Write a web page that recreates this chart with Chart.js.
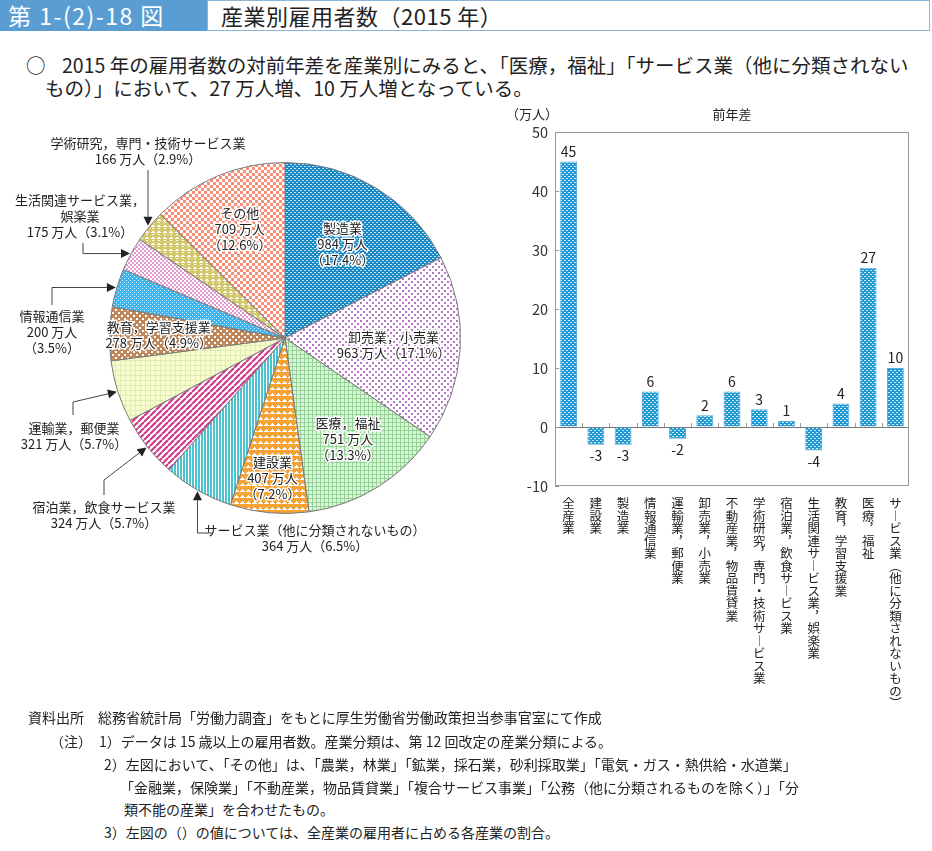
<!DOCTYPE html>
<html lang="ja">
<head>
<meta charset="utf-8">
<script src="https://cdn.jsdelivr.net/npm/chart.js@4.4.1/dist/chart.umd.min.js"></script>
<style>
  body { margin: 0; width: 932px; height: 851px; position: relative; background: #fff;
         font-family: "Noto Sans CJK JP", "Noto Sans", sans-serif; color: #222; overflow: hidden; }
  #hdrNo { position: absolute; left: 0; top: 0; width: 207px; height: 31px; background: #5a9dd3;
           color: #fff; font-size: 23px; line-height: 31px; padding-left: 8px; box-sizing: border-box;
           letter-spacing: 1.5px; }
  #hdrTitle { position: absolute; left: 207px; top: 0; width: 723px; height: 31px; border: 1px solid #8bb6dc;
              box-sizing: border-box; font-size: 22px; line-height: 29px; padding-left: 13px; letter-spacing: 0.5px; }
  .lead { position: absolute; font-size: 19.5px; line-height: 23px; white-space: nowrap; }
  .note { position: absolute; font-size: 14px; line-height: 18px; white-space: nowrap; color: #222; }
  #pie { position: absolute; left: 0; top: 110px; }
  #bar { position: absolute; left: 500px; top: 100px; }
</style>
</head>
<body>
<div id="hdrNo">第 1-(2)-18 図</div>
<div id="hdrTitle">産業別雇用者数（2015 年）</div>
<div class="lead" style="left:26px; top:53px;">○</div>
<div class="lead" style="left:62px; top:53px;">2015 年の雇用者数の対前年差を産業別にみると、「医療，福祉」「サービス業（他に分類されない</div>
<div class="lead" style="left:45px; top:76px;">もの）」において、27 万人増、10 万人増となっている。</div>

<canvas id="pie" width="500" height="450"></canvas>
<canvas id="bar" width="432" height="620"></canvas>

<div class="note" style="left:28px; top:708px;">資料出所　総務省統計局「労働力調査」をもとに厚生労働省労働政策担当参事官室にて作成</div>
<div class="note" style="left:50px; top:732px;">（注）　1）データは 15 歳以上の雇用者数。産業分類は、第 12 回改定の産業分類による。</div>
<div class="note" style="left:104px; top:755px;">2）左図において、「その他」は、「農業，林業」「鉱業，採石業，砂利採取業」「電気・ガス・熱供給・水道業」</div>
<div class="note" style="left:120px; top:778px;">「金融業，保険業」「不動産業，物品賃貸業」「複合サービス事業」「公務（他に分類されるものを除く）」「分</div>
<div class="note" style="left:124px; top:800px;">類不能の産業」を合わせたもの。</div>
<div class="note" style="left:104px; top:823px;">3）左図の（）の値については、全産業の雇用者に占める各産業の割合。</div>

<script>
// 円グラフのデータ（2015年，万人・％）
const pieNames = [
  "製造業", "卸売業，小売業", "医療，福祉", "建設業",
  "サービス業（他に分類されないもの）", "宿泊業，飲食サービス業", "運輸業，郵便業",
  "教育，学習支援業", "情報通信業", "生活関連サービス業，娯楽業",
  "学術研究，専門・技術サービス業", "その他",
];
const pieValues = [984, 963, 751, 407, 364, 324, 321, 278, 200, 175, 166, 709];
const pieShares = ["17.4", "17.1", "13.3", "7.2", "6.5", "5.7", "5.7", "4.9", "3.5", "3.1", "2.9", "12.6"];

// 棒グラフのデータ（前年差，万人）
const barCats = [
  "全産業", "建設業", "製造業", "情報通信業", "運輸業，郵便業", "卸売業，小売業",
  "不動産業，物品賃貸業", "学術研究，専門・技術サービス業", "宿泊業，飲食サービス業",
  "生活関連サービス業，娯楽業", "教育，学習支援業", "医療，福祉",
  "サービス業（他に分類されないもの）",
];
const barValues = [45, -3, -3, 6, -2, 2, 6, 3, 1, -4, 4, 27, 10];
const yTicks = [-10, 0, 10, 20, 30, 40, 50];

const FONT = '"Noto Sans CJK JP", sans-serif';

// 柄（パターン）を作る
function makePattern(size, bg, draw) {
  const c = document.createElement("canvas");
  c.width = size; c.height = size;
  const g = c.getContext("2d");
  g.fillStyle = bg;
  g.fillRect(0, 0, size, size);
  draw(g);
  return g.createPattern(c, "repeat");
}
function px(g, color, pts) {
  g.fillStyle = color;
  pts.forEach(p => g.fillRect(p[0], p[1], p[2] || 1, p[3] || 1));
}

const pieFills = [
  makePattern(4, "#1a88c4", g => px(g, "#bfe2f4", [[0, 0, 2, 1], [2, 2, 2, 1]])),            // 製造業
  makePattern(6, "#ffffff", g => px(g, "#b876c8", [[0, 0, 2, 2], [3, 3, 2, 2]])),            // 卸売
  makePattern(4, "#dff2df", g => px(g, "#93d393", [[0, 0, 4, 1], [0, 0, 1, 4]])),            // 医療
  makePattern(6, "#f7a232", g => px(g, "#fff", [[2, 1, 1, 1], [1, 2, 3, 1], [0, 3, 5, 1]])), // 建設
  makePattern(3, "#ffffff", g => px(g, "#4fc2cf", [[0, 0, 2, 3]])),                          // サービス
  makePattern(6, "#ffffff", g => {                                                         // 宿泊
    g.strokeStyle = "#d23b8a"; g.lineWidth = 2.2;
    for (let k = -6; k <= 12; k += 6) { g.beginPath(); g.moveTo(k, 6); g.lineTo(k + 6, 0); g.stroke(); }
  }),
  makePattern(5, "#fafccf", g => px(g, "#dcefb4", [[0, 0, 5, 1], [0, 0, 1, 5]])),            // 運輸
  makePattern(6, "#c0875a", g => px(g, "#fff", [[1, 1, 2, 2], [4, 4, 2, 2]])),               // 教育
  makePattern(4, "#3cb6ee", g => px(g, "#d8f1fc", [[0, 0, 1, 1], [2, 2, 1, 1]])),            // 情報
  makePattern(4, "#ffffff", g => px(g, "#e49ad2", [[0, 0, 2, 2], [2, 2, 2, 2]])),            // 生活
  makePattern(6, "#d4c86c", g => px(g, "#fff", [[2, 1, 2, 1], [1, 2, 4, 1], [2, 4, 2, 1]])), // 学術
  makePattern(6, "#f88e78", g => px(g, "#fff", [[0, 0, 3, 3], [3, 3, 3, 3]])),               // その他
];

// ラベル配置（内側 r=半径比，外側=文字位置と引出線）
const pieLayout = [
  { r: 0.63, rows: "stack" },
  { r: 0.62, rows: "pair" },
  { r: 0.68, rows: "stack" },
  { r: 0.80, rows: "stack" },
  { out: [315, 420], rows: "pair", from: [213, 423], path: "hv" },
  { out: [104, 397], rows: "pair", from: [104, 385], mid: [104, 370] },
  { out: [74, 318], rows: "pair", from: [73, 305], mid: [73, 292] },
  { r: 0.72, rows: "pair" },
  { out: [52, 206], rows: "stack", from: [52, 195], path: "vh" },
  { out: [80, 90], rows: "pair", split: 10, from: [83, 133], path: "vh" },
  { out: [148, 33], rows: "pair", from: [148, 60], path: "v" },
  { r: 0.67, rows: "stack" },
];

function pieRows(i) {
  const L = pieLayout[i];
  const v = pieValues[i] + " 万人", s = "（" + pieShares[i] + "%）";
  const name = L.split ? [pieNames[i].slice(0, L.split), pieNames[i].slice(L.split)] : [pieNames[i]];
  return L.rows === "stack" ? [...name, v, s] : [...name, v + s];
}

const pieLabelPlugin = {
  id: "pieLabels",
  afterDatasetsDraw(chart) {
    const ctx = chart.ctx;
    const meta = chart.getDatasetMeta(0);
    ctx.save();
    ctx.font = "13px " + FONT;
    ctx.textAlign = "center";
    ctx.textBaseline = "middle";
    const lh = 16;
    meta.data.forEach((arc, i) => {
      const L = pieLayout[i];
      const mid = (arc.startAngle + arc.endAngle) / 2;
      const rows = pieRows(i);
      if (L.r) {
        const cx = arc.x + Math.cos(mid) * arc.outerRadius * L.r;
        const cy = arc.y + Math.sin(mid) * arc.outerRadius * L.r;
        rows.forEach((t, k) => {
          const y = cy + (k - (rows.length - 1) / 2) * lh;
          ctx.lineWidth = 3; ctx.strokeStyle = "#fff"; ctx.lineJoin = "round";
          ctx.strokeText(t, cx, y);
          ctx.fillStyle = "#222"; ctx.fillText(t, cx, y);
        });
        return;
      }
      rows.forEach((t, k) => { ctx.fillStyle = "#222"; ctx.fillText(t, L.out[0], L.out[1] + k * lh); });
      // 引出線と矢印
      const tip = [arc.x + Math.cos(mid) * (arc.outerRadius + 1), arc.y + Math.sin(mid) * (arc.outerRadius + 1)];
      const pts = [L.from];
      if (L.mid) pts.push(L.mid);
      if (L.path === "vh") pts.push([L.from[0], tip[1]]);
      if (L.path === "hv") pts.push([tip[0], L.from[1]]);
      if (L.path === "v") tip[0] = L.from[0];
      pts.push(tip);
      const prev = pts[pts.length - 2];
      const ang = Math.atan2(tip[1] - prev[1], tip[0] - prev[0]);
      const hl = 9, hw = 4.5;
      const base = [tip[0] - Math.cos(ang) * hl, tip[1] - Math.sin(ang) * hl];
      ctx.strokeStyle = "#444"; ctx.lineWidth = 1;
      ctx.beginPath();
      ctx.moveTo(pts[0][0], pts[0][1]);
      for (let k = 1; k < pts.length - 1; k++) ctx.lineTo(pts[k][0], pts[k][1]);
      ctx.lineTo(base[0], base[1]);
      ctx.stroke();
      ctx.fillStyle = "#222";
      ctx.beginPath();
      ctx.moveTo(tip[0], tip[1]);
      ctx.lineTo(base[0] - Math.sin(ang) * hw, base[1] + Math.cos(ang) * hw);
      ctx.lineTo(base[0] + Math.sin(ang) * hw, base[1] - Math.cos(ang) * hw);
      ctx.closePath();
      ctx.fill();
    });
    ctx.restore();
  },
};

new Chart(document.getElementById("pie"), {
  type: "pie",
  data: {
    labels: pieNames,
    datasets: [{ data: pieValues, backgroundColor: pieFills, borderColor: "#7a7a7a", borderWidth: 1 }],
  },
  options: {
    responsive: false,
    animation: false,
    layout: { padding: { left: 109, right: 39, top: 52, bottom: 46 } },
    plugins: { legend: { display: false }, tooltip: { enabled: false } },
  },
  plugins: [pieLabelPlugin],
});

// 縦書き用に1文字ずつ分ける
const vertForms = { "（": "︵", "）": "︶", "，": "︐", "ー": "︱" };
const vertLabels = barCats.map(s => Array.from(s).map(ch => vertForms[ch] || ch));

const barFill = makePattern(4, "#1f98d4", g => px(g, "#cdebf8", [[0, 0, 2, 1], [2, 2, 2, 1]]));

const barDecor = {
  id: "barDecor",
  afterDatasetsDraw(chart) {
    const { ctx, chartArea: a, scales } = chart;
    const y0 = scales.y.getPixelForValue(0);
    ctx.save();
    ctx.strokeStyle = "#999"; ctx.lineWidth = 1;
    ctx.strokeRect(a.left + 0.5, a.top + 0.5, a.right - a.left - 1, a.bottom - a.top - 1);
    // 区切りの目盛り
    const step = (a.right - a.left) / barCats.length;
    ctx.beginPath();
    for (let i = 1; i < barCats.length; i++) {
      const x = Math.round(a.left + step * i) + 0.5;
      ctx.moveTo(x, y0); ctx.lineTo(x, y0 - 4);
    }
    yTicks.forEach(v => {
      const y = Math.round(scales.y.getPixelForValue(v)) + 0.5;
      ctx.moveTo(a.left, y); ctx.lineTo(a.left + 4, y);
    });
    ctx.stroke();
    // 値ラベル
    ctx.font = "14px " + FONT;
    ctx.fillStyle = "#222";
    ctx.textAlign = "center";
    chart.getDatasetMeta(0).data.forEach((bar, i) => {
      const v = barValues[i];
      if (v >= 0) { ctx.textBaseline = "bottom"; ctx.fillText(String(v), bar.x, bar.y - 3); }
      else { ctx.textBaseline = "top"; ctx.fillText(String(v), bar.x, bar.y + 4); }
    });
    // 見出し
    ctx.font = "13px " + FONT;
    ctx.textBaseline = "middle";
    ctx.fillText("前年差", (a.left + a.right) / 2, 14);
    ctx.textAlign = "right";
    ctx.fillText("（万人）", a.left + 3, 14);
    ctx.restore();
  },
};

new Chart(document.getElementById("bar"), {
  type: "bar",
  data: {
    labels: vertLabels,
    datasets: [{
      data: barValues,
      backgroundColor: barFill,
      borderColor: "#5aa9d4",
      borderWidth: 1,
      barPercentage: 0.62,
      categoryPercentage: 1,
    }],
  },
  options: {
    responsive: false,
    animation: false,
    layout: { padding: { top: 32, right: 23, left: 0, bottom: 0 } },
    plugins: { legend: { display: false }, tooltip: { enabled: false } },
    scales: {
      x: {
        grid: { display: false },
        border: { display: false },
        ticks: { font: { family: FONT, size: 12.5, lineHeight: 1.0 }, color: "#222",
                 maxRotation: 0, autoSkip: false, padding: 3 },
        afterFit: s => { s.height = 234; },
      },
      y: {
        min: -10, max: 50,
        afterBuildTicks: s => { s.ticks = yTicks.map(v => ({ value: v })); },
        border: { display: false },
        grid: { color: c => (c.tick && c.tick.value === 0 ? "#777" : "rgba(0,0,0,0)"), drawTicks: false },
        ticks: { font: { family: FONT, size: 14.5 }, color: "#333", padding: 7 },
        afterFit: s => { s.width = 55; },
      },
    },
  },
  plugins: [barDecor],
});
</script>
</body>
</html>
